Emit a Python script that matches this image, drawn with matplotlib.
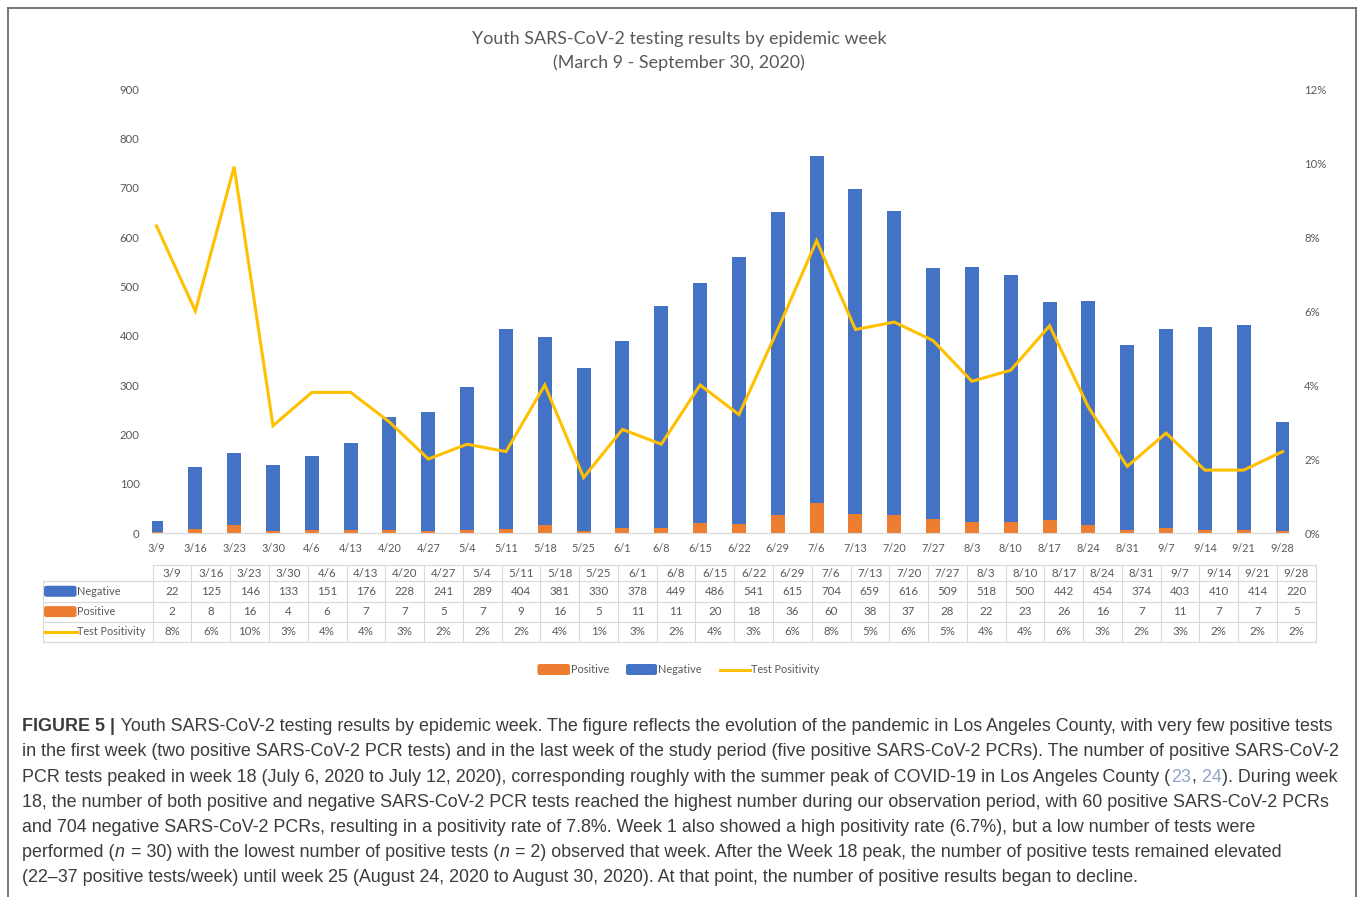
import matplotlib
matplotlib.use("Agg")
import matplotlib.pyplot as plt
import numpy as np
from matplotlib.lines import Line2D
from matplotlib.patches import FancyBboxPatch

# ---------------- data ----------------
weeks = ["3/9", "3/16", "3/23", "3/30", "4/6", "4/13", "4/20", "4/27", "5/4", "5/11",
         "5/18", "5/25", "6/1", "6/8", "6/15", "6/22", "6/29", "7/6", "7/13", "7/20",
         "7/27", "8/3", "8/10", "8/17", "8/24", "8/31", "9/7", "9/14", "9/21", "9/28"]
negative = [22, 125, 146, 133, 151, 176, 228, 241, 289, 404, 381, 330, 378, 449, 486,
            541, 615, 704, 659, 616, 509, 518, 500, 442, 454, 374, 403, 410, 414, 220]
positive = [2, 8, 16, 4, 6, 7, 7, 5, 7, 9, 16, 5, 11, 11, 20, 18, 36, 60, 38, 37,
            28, 22, 23, 26, 16, 7, 11, 7, 7, 5]
positivity_pct = [8.3, 6.0, 9.9, 2.9, 3.8, 3.8, 3.0, 2.0, 2.4, 2.2, 4.0, 1.5, 2.8, 2.4, 4.0,
                  3.2, 5.5, 7.9, 5.5, 5.7, 5.2, 4.1, 4.4, 5.6, 3.4, 1.8, 2.7, 1.7, 1.7, 2.2]
positivity_labels = ["8%", "6%", "10%", "3%", "4%", "4%", "3%", "2%", "2%", "2%", "4%", "1%",
                     "3%", "2%", "4%", "3%", "6%", "8%", "5%", "6%", "5%", "4%", "4%", "6%",
                     "3%", "2%", "3%", "2%", "2%", "2%"]
left_ticks = [0, 100, 200, 300, 400, 500, 600, 700, 800, 900]
right_ticks = [0, 2, 4, 6, 8, 10, 12]

title_lines = ["Youth SARS-CoV-2 testing results by epidemic week",
               "(March 9 - September 30, 2020)"]

# ---------------- style ----------------
BLUE = "#4472C4"
ORANGE = "#ED7D31"
YELLOW = "#FFC000"
GRAY = "#595959"
GRID = "#d9d9d9"
CHART_FONT = ["Lato", "DejaVu Sans"]
CAP_FONT = ["Liberation Sans", "DejaVu Sans"]

W, H = 1358, 897
fig = plt.figure(figsize=(W / 100, H / 100), dpi=100)
fig.patch.set_facecolor("white")


def X(px):
    return px / W


def Y(py):
    return 1 - py / H


# outer border
for (x0, y0, x1, y1) in [(8, 8, 8, 897), (8, 8, 1356, 8), (1356, 8, 1356, 897)]:
    fig.add_artist(Line2D([X(x0), X(x1)], [Y(y0), Y(y1)], color="#6b6b6b", lw=1.3,
                          transform=fig.transFigure))

# ---------------- main axes ----------------
ax_l, ax_r, ax_t, ax_b = 152, 1289, 89, 533
ax = fig.add_axes([X(ax_l), Y(ax_b), (ax_r - ax_l) / W, (ax_b - ax_t) / H])
x = np.arange(len(weeks))
bw = 0.36
ax.bar(x, positive, width=bw, color=ORANGE, zorder=2)
ax.bar(x, negative, bottom=positive, width=bw, color=BLUE, zorder=2)
ax.set_ylim(0, 900)
ax.set_xlim(-0.116, 29.166)
ax.set_yticks(left_ticks)
ax.set_yticklabels([str(t) for t in left_ticks], fontsize=8.2, color=GRAY, family=CHART_FONT)
ax.set_xticks(x)
ax.set_xticklabels(weeks, fontsize=7.8, color=GRAY, family=CHART_FONT)
ax.tick_params(axis="both", length=0)
ax.tick_params(axis="y", pad=9)
ax.tick_params(axis="x", pad=7)
for s in ["top", "left", "right"]:
    ax.spines[s].set_visible(False)
ax.spines["bottom"].set_color(GRID)
ax.spines["bottom"].set_linewidth(0.9)
ax.patch.set_alpha(0)

ax2 = ax.twinx()
ax2.plot(x, np.array(positivity_pct) / 100.0, color=YELLOW, lw=2.2, zorder=3,
         solid_joinstyle="miter")
ax2.set_ylim(0, 0.12)
ax2.set_yticks([t / 100 for t in right_ticks])
ax2.set_yticklabels([f"{t}%" for t in right_ticks], fontsize=8.2, color=GRAY, family=CHART_FONT)
ax2.tick_params(axis="y", length=0, pad=11)
for s in ax2.spines.values():
    s.set_visible(False)

# title
fig.text(X(679), Y(39), title_lines[0], ha="center", va="center", fontsize=12.9,
         color=GRAY, family=CHART_FONT)
fig.text(X(679), Y(63), title_lines[1], ha="center", va="center", fontsize=12.9,
         color=GRAY, family=CHART_FONT)

# ---------------- data table ----------------
t_left, t_c0, t_right = 43, 152.7, 1315.7
col_w = (t_right - t_c0) / len(weeks)
rows_y = [565, 581, 601.5, 621.7, 641.7]


def hline(x0, x1, y):
    fig.add_artist(Line2D([X(x0), X(x1)], [Y(y), Y(y)], color=GRID, lw=0.8,
                          transform=fig.transFigure))


def vline(xx, y0, y1):
    fig.add_artist(Line2D([X(xx), X(xx)], [Y(y0), Y(y1)], color=GRID, lw=0.8,
                          transform=fig.transFigure))


hline(t_c0, t_right, rows_y[0])
for yy in rows_y[1:]:
    hline(t_left, t_right, yy)
vline(t_left, rows_y[1], rows_y[-1])
for k in range(len(weeks) + 1):
    vline(t_c0 + k * col_w, rows_y[0], rows_y[-1])

row_vals = [weeks, [str(v) for v in negative], [str(v) for v in positive], positivity_labels]
for r, vals in enumerate(row_vals):
    yc = (rows_y[r] + rows_y[r + 1]) / 2
    for k, v in enumerate(vals):
        fig.text(X(t_c0 + (k + 0.5) * col_w), Y(yc), v, ha="center", va="center",
                 fontsize=8.3, color=GRAY, family=CHART_FONT)

# row labels with keys
key_x0, key_x1 = 44, 76.5
labels = ["Negative", "Positive", "Test Positivity"]
for r, (lab, kind) in enumerate(zip(labels, ["bar_blue", "bar_orange", "line"])):
    yc = (rows_y[r + 1] + rows_y[r + 2]) / 2
    if kind == "line":
        fig.add_artist(Line2D([X(key_x0 + 1), X(key_x1)], [Y(yc), Y(yc)], color=YELLOW,
                              lw=2.2, transform=fig.transFigure))
    else:
        col = BLUE if kind == "bar_blue" else ORANGE
        fig.add_artist(FancyBboxPatch((X(key_x0), Y(yc + 5.5)), X(key_x1 - key_x0), 11 / H,
                                      boxstyle="round,pad=0,rounding_size=0.002",
                                      facecolor=col, edgecolor="none",
                                      transform=fig.transFigure))
    fig.text(X(77), Y(yc), lab, ha="left", va="center", fontsize=7.8, color=GRAY,
             family=CHART_FONT)

# bottom legend
leg_y = 669.5
legend_items = [("Positive", ORANGE, 537.5, 570), ("Negative", BLUE, 626, 657),
                ("Test Positivity", YELLOW, 720, 750)]
for lab, col, kx0, kx1 in legend_items:
    if col == YELLOW:
        fig.add_artist(Line2D([X(kx0), X(kx1)], [Y(leg_y), Y(leg_y)], color=col, lw=2.2,
                              transform=fig.transFigure))
    else:
        fig.add_artist(FancyBboxPatch((X(kx0), Y(leg_y + 5.5)), X(kx1 - kx0), 11 / H,
                                      boxstyle="round,pad=0,rounding_size=0.002",
                                      facecolor=col, edgecolor="none",
                                      transform=fig.transFigure))
    fig.text(X(kx1 + 1), Y(leg_y), lab, ha="left", va="center", fontsize=7.8, color=GRAY,
             family=CHART_FONT)

# ---------------- caption ----------------
CAP_COL = "#3c3c3c"
REF_COL = "#8ea6c8"
caption = [
    [("FIGURE 5 |", {"weight": "bold"}),
     (" Youth SARS-CoV-2 testing results by epidemic week. The figure reflects the evolution of the pandemic in Los Angeles County, with very few positive tests", {})],
    [("in the first week (two positive SARS-CoV-2 PCR tests) and in the last week of the study period (five positive SARS-CoV-2 PCRs). The number of positive SARS-CoV-2", {})],
    [("PCR tests peaked in week 18 (July 6, 2020 to July 12, 2020), corresponding roughly with the summer peak of COVID-19 in Los Angeles County (", {}),
     ("23", {"color": REF_COL}), (",", {}), (" 24", {"color": REF_COL}), ("). During week", {})],
    [("18, the number of both positive and negative SARS-CoV-2 PCR tests reached the highest number during our observation period, with 60 positive SARS-CoV-2 PCRs", {})],
    [("and 704 negative SARS-CoV-2 PCRs, resulting in a positivity rate of 7.8%. Week 1 also showed a high positivity rate (6.7%), but a low number of tests were", {})],
    [("performed (", {}), ("n", {"style": "italic"}), (" = 30) with the lowest number of positive tests (", {}),
     ("n", {"style": "italic"}), (" = 2) observed that week. After the Week 18 peak, the number of positive tests remained elevated", {})],
    [("(22–37 positive tests/week) until week 25 (August 24, 2020 to August 30, 2020). At that point, the number of positive results began to decline.", {})],
]
baselines = [731, 756, 781.5, 806.5, 831.5, 857, 882]

renderer = fig.canvas.get_renderer()


def max_line_width(size):
    m = 0
    for line in caption[:4]:
        pr = fig.text(0, 0, "".join(p[0] for p in line), fontsize=size, family=CAP_FONT)
        m = max(m, pr.get_window_extent(renderer).width)
        pr.remove()
    return m


cap_size = 11.0
for _ in range(4):
    cap_size = cap_size * 1316 / max_line_width(cap_size)
while max_line_width(cap_size) > 1318:
    cap_size -= 0.05

for line, yb in zip(caption, baselines):
    xcur = 22
    for txt, kw in line:
        kw2 = dict(kw)
        col = kw2.pop("color", CAP_COL)
        t = fig.text(X(xcur), Y(yb), txt, ha="left", va="baseline", fontsize=cap_size,
                     color=col, family=CAP_FONT, **kw2)
        xcur += t.get_window_extent(renderer).width + 0.6

fig.savefig("out.png", dpi=100, facecolor="white")
